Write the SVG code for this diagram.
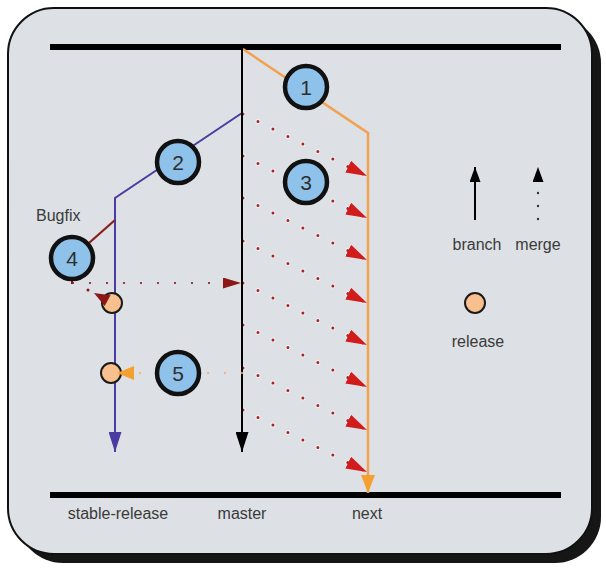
<svg xmlns="http://www.w3.org/2000/svg" width="606" height="568" viewBox="0 0 606 568">
  <style>
    .lbl { font-family: "Liberation Sans", Arial, sans-serif; font-size: 16px; fill: #3a3a3a; }
    .num { font-family: "Liberation Sans", Arial, sans-serif; font-size: 21px; fill: #2e2e2e; text-anchor: middle; }
    .step { fill: #8fc2ea; stroke: #111; stroke-width: 4.5; }
    .rel { fill: #f8c08e; stroke: #1a1a1a; stroke-width: 2; }
    .halo { stroke: #f6f6f6; stroke-opacity: 0.7; stroke-width: 5; stroke-linecap: round; fill: none; }
    .dotred { stroke: #a82424; stroke-width: 3; stroke-linecap: round; fill: none; }
    .merge { stroke-dasharray: 0 16.74; }
  </style>
  <defs>
    <marker id="mRed" markerUnits="userSpaceOnUse" viewBox="0 0 21 13" refX="21" refY="6.5" markerWidth="21" markerHeight="13" orient="auto">
      <path d="M0,0 L21,6.5 L0,13 z" fill="#d21b1b"/>
    </marker>
    <marker id="mDark" markerUnits="userSpaceOnUse" viewBox="0 0 18 11" refX="18" refY="5.5" markerWidth="18" markerHeight="11" orient="auto">
      <path d="M0,0 L18,5.5 L0,11 z" fill="#8b1717"/>
    </marker>
    <marker id="mBlack" markerUnits="userSpaceOnUse" viewBox="0 0 20 13" refX="20" refY="6.5" markerWidth="20" markerHeight="13" orient="auto">
      <path d="M0,0 L20,6.5 L0,13 z" fill="#000"/>
    </marker>
    <marker id="mPurple" markerUnits="userSpaceOnUse" viewBox="0 0 20 13" refX="20" refY="6.5" markerWidth="20" markerHeight="13" orient="auto">
      <path d="M0,0 L20,6.5 L0,13 z" fill="#4a3ca0"/>
    </marker>
    <marker id="mOrange" markerUnits="userSpaceOnUse" viewBox="0 0 18 14" refX="18" refY="7" markerWidth="18" markerHeight="14" orient="auto">
      <path d="M0,0 L18,7 L0,14 z" fill="#f5a02e"/>
    </marker>
    <marker id="mLegend" markerUnits="userSpaceOnUse" viewBox="0 0 15 11" refX="15" refY="5.5" markerWidth="15" markerHeight="11" orient="auto">
      <path d="M0,0 L15,5.5 L0,11 z" fill="#000"/>
    </marker>
  </defs>

  <!-- panel with drop shadow -->
  <rect x="17" y="17" width="584" height="546" rx="46" fill="#161616"/>
  <rect x="8" y="8" width="584" height="546" rx="46" fill="#dde1e5" stroke="#111" stroke-width="2"/>

  <!-- time bars -->
  <line x1="50" y1="47" x2="561" y2="47" stroke="#000" stroke-width="6"/>
  <line x1="50" y1="495" x2="561" y2="495" stroke="#000" stroke-width="6"/>

  <g id="connectors">
    <!-- merges master -> next -->
    <g id="merges-next">
      <path class="halo merge" d="M243,114 L367,176"/>
      <path class="dotred merge" d="M243,114 L367,176" marker-end="url(#mRed)"/>
      <path class="halo merge" d="M243,156 L367,218"/>
      <path class="dotred merge" d="M243,156 L367,218" marker-end="url(#mRed)"/>
      <path class="halo merge" d="M243,198 L367,260"/>
      <path class="dotred merge" d="M243,198 L367,260" marker-end="url(#mRed)"/>
      <path class="halo merge" d="M243,241 L367,303"/>
      <path class="dotred merge" d="M243,241 L367,303" marker-end="url(#mRed)"/>
      <path class="halo merge" d="M243,283 L367,345"/>
      <path class="dotred merge" d="M243,283 L367,345" marker-end="url(#mRed)"/>
      <path class="halo merge" d="M243,325 L367,387"/>
      <path class="dotred merge" d="M243,325 L367,387" marker-end="url(#mRed)"/>
      <path class="halo merge" d="M243,368 L367,430"/>
      <path class="dotred merge" d="M243,368 L367,430" marker-end="url(#mRed)"/>
      <path class="halo merge" d="M243,410 L367,472"/>
      <path class="dotred merge" d="M243,410 L367,472" marker-end="url(#mRed)"/>
    </g>

    <!-- branches -->
    <path id="next-branch" d="M243,49 L368,133 L368,493" fill="none" stroke="#f3a050" stroke-width="2.5" marker-end="url(#mOrange)"/>
    <path id="stable-branch" d="M242,113 L115,198 L115,452" fill="none" stroke="#4a3ca0" stroke-width="2" marker-end="url(#mPurple)"/>
    <path id="master-branch" d="M242,49 L242,452" fill="none" stroke="#000" stroke-width="2" marker-end="url(#mBlack)"/>
    <path id="bugfix-branch" d="M115,220 L72,258" fill="none" stroke="#8b1f1f" stroke-width="2.2"/>

    <!-- bugfix merges -->
    <line x1="72" y1="279" x2="72" y2="284" stroke="#8b1717" stroke-width="2"/>
    <path d="M73,283 L241,283" fill="none" stroke="#8b1717" stroke-width="2.2" stroke-linecap="round" stroke-dasharray="0 17" marker-end="url(#mDark)"/>
    <circle cx="88" cy="290" r="1.5" fill="#8b1717"/>

    <!-- master -> stable release -->
    <path d="M242,373 L133,373" fill="none" stroke="#f2ad6c" stroke-width="2.4" stroke-linecap="round" stroke-dasharray="0 17" stroke-opacity="0.8"/>
  </g>

  <!-- release points -->
  <g id="release-1"><circle class="rel" cx="112" cy="303" r="10"/></g>
  <g id="release-2"><circle class="rel" cx="111" cy="373" r="10"/></g>

  <!-- arrowheads landing on the release points -->
  <g id="release-heads">
    <polygon points="94,293 110.5,295.3 104.7,306" fill="#8b1717"/>
    <polygon points="117,373 134,366 134,380" fill="#f5a02e"/>
  </g>

  <!-- numbered steps -->
  <g id="step-1"><circle class="step" cx="306" cy="87" r="21"/><text class="num" x="306" y="94.5">1</text></g>
  <g id="step-2"><circle class="step" cx="178" cy="162" r="21"/><text class="num" x="178" y="169.5">2</text></g>
  <g id="step-3"><circle class="step" cx="306" cy="182" r="21"/><text class="num" x="306" y="189.5">3</text></g>
  <g id="step-4"><circle class="step" cx="72" cy="258" r="21"/><text class="num" x="72" y="265.5">4</text></g>
  <g id="step-5"><circle class="step" cx="178" cy="373" r="21"/><text class="num" x="178" y="380.5">5</text></g>

  <text class="lbl" x="36" y="221">Bugfix</text>

  <!-- legend -->
  <g id="legend-branch">
    <line x1="475" y1="220" x2="475" y2="167" stroke="#000" stroke-width="2" marker-end="url(#mLegend)"/>
    <text class="lbl" x="477" y="250" text-anchor="middle">branch</text>
  </g>
  <g id="legend-merge">
    <line x1="538" y1="182" x2="538" y2="167" stroke="#000" stroke-width="0.1" marker-end="url(#mLegend)"/>
    <circle cx="538" cy="193" r="1.2" fill="#333"/>
    <circle cx="538" cy="206" r="1.2" fill="#333"/>
    <circle cx="538" cy="219" r="1.2" fill="#333"/>
    <text class="lbl" x="538" y="250" text-anchor="middle">merge</text>
  </g>
  <g id="legend-release">
    <circle class="rel" cx="475" cy="303" r="10"/>
    <text class="lbl" x="478" y="347" text-anchor="middle">release</text>
  </g>

  <!-- branch names -->
  <text class="lbl" x="118" y="519" text-anchor="middle">stable-release</text>
  <text class="lbl" x="242" y="519" text-anchor="middle">master</text>
  <text class="lbl" x="367" y="519" text-anchor="middle">next</text>
</svg>
